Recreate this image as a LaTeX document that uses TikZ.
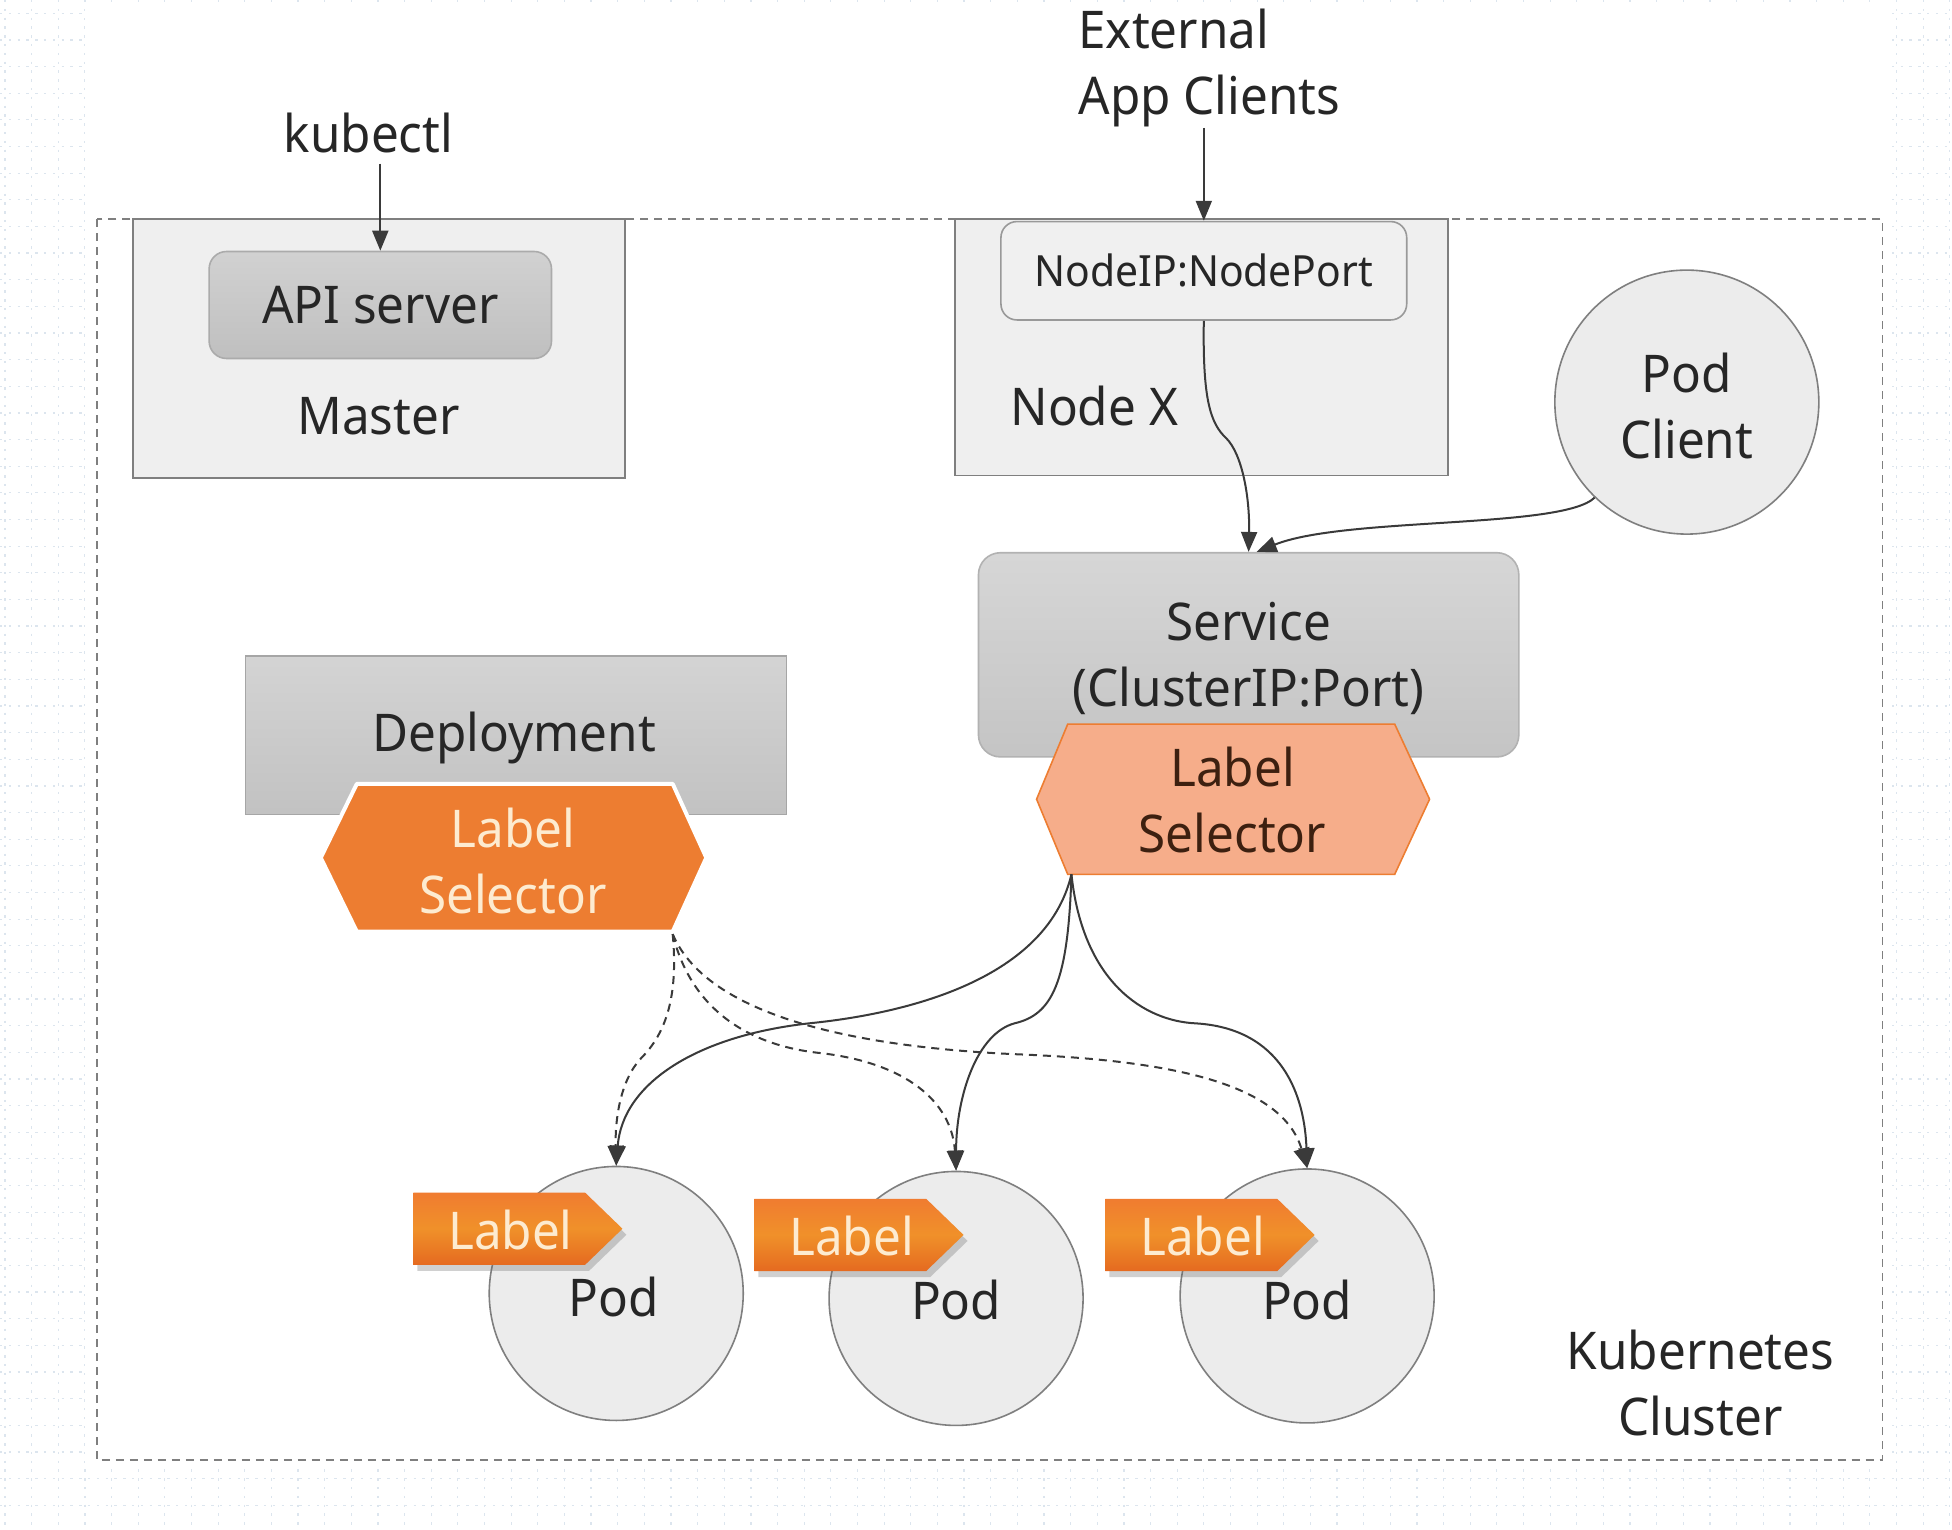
\documentclass[tikz,border=0pt]{standalone}
\usepackage{fontspec}
\setmainfont{Noto Sans}[FakeStretch=0.95]
\usetikzlibrary{arrows.meta,shadows,calc}
\definecolor{gridc}{HTML}{DCE5EE}
\definecolor{txt}{HTML}{262626}
\definecolor{boxfill}{HTML}{EFEFEF}
\definecolor{boxline}{HTML}{7F7F7F}
\definecolor{podfill}{HTML}{ECECEC}
\definecolor{arrowc}{HTML}{3A3A3A}
\definecolor{orangeA}{HTML}{ED7D31}
\definecolor{orangeL}{HTML}{F6AD8A}
\definecolor{tagtop}{HTML}{F07C30}
\definecolor{tagbot}{HTML}{E56A20}
\definecolor{cream}{HTML}{FDEBD0}
\definecolor{brownt}{HTML}{3D2010}
\tikzset{
  box/.style={draw=boxline, fill=boxfill, line width=0.8pt, inner sep=0pt},
  conn/.style={draw=arrowc, line width=1pt, -{Triangle[length=10pt,width=8pt]}},
  dconn/.style={conn, dash pattern=on 4pt off 3pt},
  podc/.style={circle, draw=boxline, fill=podfill, line width=0.8pt, inner sep=0pt},
  lbl/.style={inner sep=0pt, align=center},
}
\begin{document}
\begin{tikzpicture}[x=0.6225pt, y=-0.6225pt, font=\fontsize{26}{33}\selectfont, text=txt]
\useasboundingbox (0,0) rectangle (1568,1229);
% background grid
\begin{scope}
  \clip (0,0) rectangle (1568,1229);
  \foreach \i in {0,...,74} \draw[gridc, line width=0.6pt, dash pattern=on 1.2pt off 3.2pt] (4+21.4*\i,0) -- ++(0,1229);
  \foreach \j in {0,...,57} \draw[gridc, line width=0.6pt, dash pattern=on 1.2pt off 3.2pt] (0,10.7+21.4*\j) -- ++(1568,0);
\end{scope}
\fill[white] (68,4) rectangle (1520,1178);

% cluster
\draw[boxline, line width=0.8pt, dash pattern=on 4pt off 3pt] (78,176) rectangle (1512,1173);
\node[lbl] (cluster) at (1366,1111) {Kubernetes\\Cluster};

% master
\node[box, minimum width=245.9pt, minimum height=129.5pt] (master) at (304.5,280) {};
\node[lbl] (mastert) at (304,334) {Master};
\node[draw=black!33, top color=black!18, bottom color=black!25, line width=0.8pt, rounded corners=8.7pt, minimum width=171.2pt, minimum height=53.5pt, inner sep=0pt] (api) at (305.5,245) {API server};
\node[lbl] (kubectl) at (296,107) {kubectl};
\draw[conn] (api.north |- kubectl.south) ++(0,8) -- (api.north);

% node X
\node[box, minimum width=246.5pt, minimum height=128.2pt] (nodex) at (965,279) {};
\node[lbl] (nodext) at (879,326) {Node X};
\node[draw=black!40, fill=black!6, line width=0.8pt, rounded corners=8pt, minimum width=202.9pt, minimum height=49.2pt, inner sep=0pt, font=\fontsize{21.5}{26}\selectfont] (nodeip) at (967,217.5) {NodeIP:NodePort};
\node[lbl, align=left, anchor=west] (ext) at (866,55) {External\\App Clients};
\draw[conn] (nodeip.north |- ext.south) -- (nodeip.north);

% pod client
\node[podc, minimum size=132pt] (podcl) at (1355,323) {};
\node[lbl] (podclt) at (1355,326) {Pod\\Client};

% service
\node[draw=black!30, top color=black!16, bottom color=black!23, line width=0.8pt, rounded corners=11pt, minimum width=270.2pt, minimum height=102.1pt, inner sep=0pt] (svc) at (1003,526) {};
\node[lbl] (svct) at (1003,529) {Service\\(ClusterIP:Port)};
\node[inner sep=0pt, minimum width=196.1pt, minimum height=74.7pt] (ssel) at (990.5,642) {};
\fill[orangeL, draw=orangeA, line width=0.8pt] (ssel.west) -- ($(ssel.north west)+(25,0)$) -- ($(ssel.north east)+(-28,0)$) -- (ssel.east) -- ($(ssel.south east)+(-28,0)$) -- ($(ssel.south west)+(25,0)$) -- cycle;
\node[lbl, text=brownt] (sselt) at (990,643) {Label\\Selector};
\coordinate (sselbl) at ($(ssel.south west)+(28,0)$);

% deployment
\node[draw=black!35, top color=black!17, bottom color=black!24, line width=0.6pt, minimum width=270.8pt, minimum height=79.1pt, inner sep=0pt] (dep) at (414.5,590.5) {};
\node[lbl] (dept) at (413,593) {Deployment};
\node[inner sep=0pt, minimum width=192.4pt, minimum height=73.5pt] (dsel) at (412.5,689) {};
\fill[orangeA, draw=white, line width=2pt, line join=round] (dsel.west) -- ($(dsel.north west)+(29,0)$) -- ($(dsel.north east)+(-27,0)$) -- (dsel.east) -- ($(dsel.south east)+(-27,0)$) -- ($(dsel.south west)+(29,0)$) -- cycle;
\node[lbl, text=cream] (dselt) at (412,692) {Label\\Selector};
\coordinate (dselbr) at ($(dsel.south east)+(-27,2)$);

% pods
\node[podc, minimum size=127pt] (pod1) at (495,1039) {};
\node[podc, minimum size=127pt] (pod2) at (768,1043) {};
\node[podc, minimum size=127pt] (pod3) at (1050,1041) {};
\node[lbl] (pod1t) at (493,1042) {Pod};
\node[lbl] (pod2t) at (768,1044) {Pod};
\node[lbl] (pod3t) at (1050,1044) {Pod};

% label tags
\foreach \n/\x/\y in {1/332/958, 2/606/963, 3/888/963}{
  \path[drop shadow={shadow xshift=2pt, shadow yshift=-3pt, opacity=0.3, fill=black!60}, top color=tagtop, bottom color=tagbot, middle color=orangeA!85!yellow]
    (\x,\y) -- ++(138,0) -- ++(30,29) -- ++(-30,29) -- ++(-138,0) -- cycle;
  \node[lbl, text=cream] (tag\n) at (\x+78,\y+30) {Label};
}

% connectors
\draw[conn] (nodeip.south) .. controls (966,320) and (972,340) .. (985,352) .. controls (998,365) and (1004,400) .. (svc.north);
\draw[conn] (podcl.226) .. controls (1255,425) and (1080,415) .. ([xshift=4pt]svc.north);

\draw[conn] (sselbl) .. controls (840,790) and (720,815) .. (650,822) .. controls (560,832) and (500,870) .. (pod1.north);
\draw[conn] (sselbl) .. controls (858,790) and (845,815) .. (815,822) .. controls (785,830) and (768,880) .. (pod2.north);
\draw[conn] (sselbl) .. controls (870,790) and (920,820) .. (960,822) .. controls (1030,826) and (1048,880) .. (pod3.north);

\draw[dconn] (dselbr) .. controls (545,800) and (535,830) .. (515,850) .. controls (498,868) and (494,900) .. (pod1.north);
\draw[dconn] (dselbr) .. controls (555,810) and (600,840) .. (660,846) .. controls (735,855) and (765,890) .. (pod2.north);
\draw[dconn] (dselbr) .. controls (570,820) and (700,842) .. (820,847) .. controls (940,852) and (1030,870) .. (pod3.north);
\end{tikzpicture}
\end{document}
